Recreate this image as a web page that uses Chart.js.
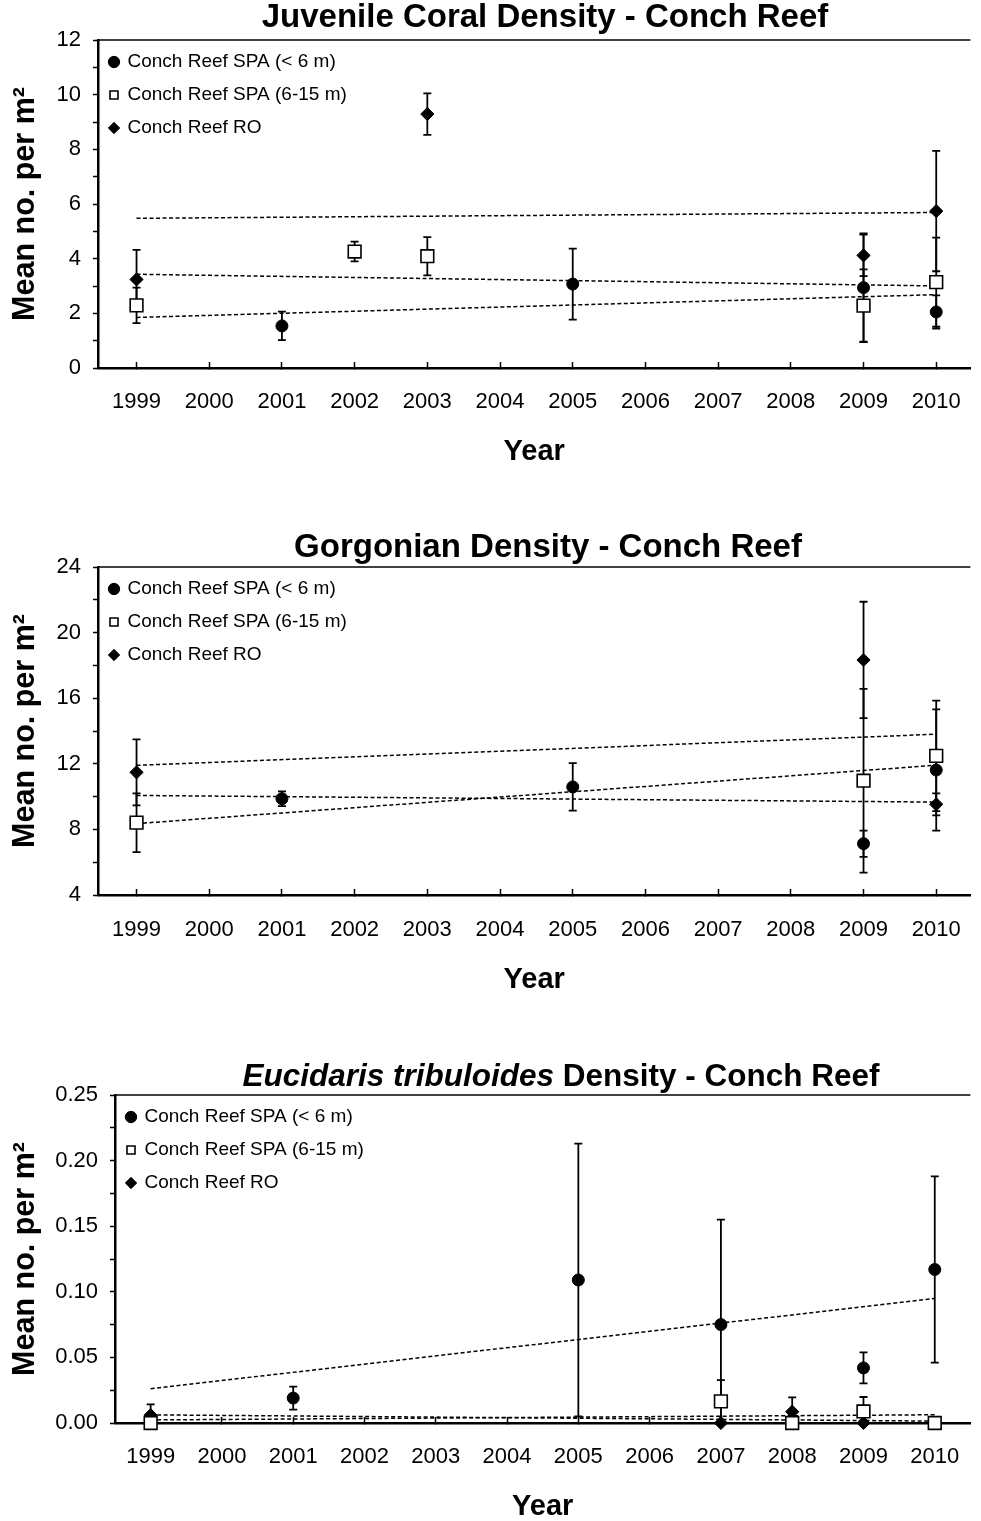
<!DOCTYPE html>
<html>
<head>
<meta charset="utf-8">
<title>Conch Reef density charts</title>
<script src="https://cdn.jsdelivr.net/npm/chart.js@4.4.1/dist/chart.umd.min.js"></script>
<style>
  html, body { margin: 0; padding: 0; background: #fff; }
  body { width: 981px; height: 1521px; position: relative; overflow: hidden; }
  canvas { position: absolute; left: 0; }
</style>
</head>
<body>
<canvas id="coral" width="981" height="500" style="top:0px"></canvas>
<canvas id="gorgonian" width="981" height="530" style="top:500px"></canvas>
<canvas id="urchin" width="981" height="491" style="top:1030px"></canvas>
<script>
// ---- shared categories ----
const years = [1999, 2000, 2001, 2002, 2003, 2004, 2005, 2006, 2007, 2008, 2009, 2010];
const seriesNames = ['Conch Reef SPA (< 6 m)', 'Conch Reef SPA (6-15 m)', 'Conch Reef RO'];

// ---- juvenile corals (mean no. per m², with error) ----
const coralShallowYears = [2001, 2005, 2009, 2010];
const coralShallowMean  = [1.54, 3.07, 2.94, 2.05];
const coralShallowErr   = [0.52, 1.30, 1.98, 0.61];
const coralDeepYears = [1999, 2002, 2003, 2009, 2010];
const coralDeepMean  = [2.29, 4.26, 4.09, 2.28, 3.14];
const coralDeepErr   = [0.65, 0.36, 0.70, 1.33, 1.63];
const coralROYears = [1999, 2003, 2009, 2010];
const coralROMean  = [3.24, 9.29, 4.12, 5.74];
const coralROErr   = [1.08, 0.76, 0.76, 2.20];

// ---- gorgonians ----
const gorgShallowYears = [2001, 2005, 2009, 2010];
const gorgShallowMean  = [9.87, 10.59, 7.13, 11.62];
const gorgShallowErr   = [0.45, 1.45, 0.80, 3.70];
const gorgDeepYears = [1999, 2009, 2010];
const gorgDeepMean  = [8.41, 10.97, 12.48];
const gorgDeepErr   = [1.79, 5.60, 3.37];
const gorgROYears = [1999, 2009, 2010];
const gorgROMean  = [11.48, 18.33, 9.53];
const gorgROErr   = [2.01, 3.55, 0.67];

// ---- Eucidaris tribuloides ----
const urchinShallowYears = [2001, 2005, 2007, 2009, 2010];
const urchinShallowMean  = [0.019, 0.109, 0.075, 0.042, 0.117];
const urchinShallowErr   = [0.0088, 0.104, 0.080, 0.0118, 0.071];
const urchinDeepYears = [1999, 2007, 2008, 2009, 2010];
const urchinDeepMean  = [0.0, 0.0165, 0.0, 0.0088, 0.0];
const urchinDeepErr   = [0, 0.0162, 0, 0.011, 0];
const urchinROYears = [1999, 2007, 2008, 2009, 2010];
const urchinROMean  = [0.006, 0.0, 0.0086, 0.0, 0.0];
const urchinROErr   = [0.0082, 0, 0.011, 0, 0];

const FONT = "'Liberation Sans', Arial, Helvetica, sans-serif";
Chart.defaults.font.family = FONT;
Chart.defaults.color = '#000';
Chart.defaults.animation = false;

// least-squares line through a series, evaluated at the ends of the year range
function trendPoints(xs, ys) {
  const n = xs.length;
  const mx = xs.reduce((a, b) => a + b, 0) / n;
  const my = ys.reduce((a, b) => a + b, 0) / n;
  let sxy = 0, sxx = 0;
  for (let i = 0; i < n; i++) { sxy += (xs[i] - mx) * (ys[i] - my); sxx += (xs[i] - mx) * (xs[i] - mx); }
  const b = sxy / sxx, a = my - b * mx;
  const x0 = years[0], x1 = years[years.length - 1];
  return [{ x: x0, y: a + b * x0 }, { x: x1, y: a + b * x1 }];
}

const markerStyles = [
  { pointStyle: 'circle',  pointRadius: 6,   backgroundColor: '#000', borderColor: '#000', borderWidth: 1 },
  { pointStyle: 'rect',    pointRadius: 9,   backgroundColor: '#fff', borderColor: '#000', borderWidth: 1.6 },
  { pointStyle: 'rectRot', pointRadius: 6.6, backgroundColor: '#000', borderColor: '#000', borderWidth: 1 }
];

// vertical error bars with caps, drawn beneath the markers
const errorBars = {
  id: 'errorBars',
  beforeDatasetsDraw(chart) {
    const { ctx, chartArea } = chart;
    const xs = chart.scales.x, ys = chart.scales.y;
    ctx.save();
    ctx.beginPath();
    ctx.rect(chartArea.left, chartArea.top - 1, chartArea.right - chartArea.left, chartArea.bottom - chartArea.top + 1);
    ctx.clip();
    ctx.strokeStyle = '#000';
    ctx.lineWidth = 1.8;
    chart.data.datasets.forEach(ds => {
      if (!ds.errors) return;
      ds.data.forEach((p, j) => {
        const e = ds.errors[j];
        if (!e) return;
        const px = xs.getPixelForValue(p.x);
        const yHi = ys.getPixelForValue(p.y + e);
        const yLo = ys.getPixelForValue(p.y - e);
        ctx.beginPath();
        ctx.moveTo(px, yHi); ctx.lineTo(px, yLo);
        ctx.moveTo(px - 4, yHi); ctx.lineTo(px + 4, yHi);
        ctx.moveTo(px - 4, yLo); ctx.lineTo(px + 4, yLo);
        ctx.stroke();
      });
    });
    ctx.restore();
  }
};

// thin frame line along the top of the plot area
const topFrame = {
  id: 'topFrame',
  beforeDatasetsDraw(chart) {
    const { ctx, chartArea } = chart;
    ctx.save();
    ctx.strokeStyle = '#000';
    ctx.lineWidth = 1.5;
    ctx.beginPath();
    ctx.moveTo(chartArea.left, chartArea.top);
    ctx.lineTo(chartArea.right, chartArea.top);
    ctx.stroke();
    ctx.restore();
  }
};

// title made of styled runs (allows an italic species name)
const runTitle = {
  id: 'runTitle',
  afterDraw(chart, args, opts) {
    const ctx = chart.ctx;
    ctx.save();
    ctx.fillStyle = '#000';
    ctx.textBaseline = 'middle';
    ctx.textAlign = 'left';
    const fontOf = r => (r.italic ? 'italic ' : '') + 'bold ' + opts.size + 'px ' + FONT;
    let total = 0;
    opts.runs.forEach(r => { ctx.font = fontOf(r); total += ctx.measureText(r.text).width; });
    let x = opts.x - total / 2;
    opts.runs.forEach(r => {
      ctx.font = fontOf(r);
      ctx.fillText(r.text, x, opts.y);
      x += ctx.measureText(r.text).width;
    });
    ctx.restore();
  }
};

// pin the legend to the upper-left corner inside the plot area
const legendCorner = {
  id: 'legendCorner',
  afterLayout(chart, args, opts) {
    const lg = chart.legend, ca = chart.chartArea;
    if (!lg) return;
    const w = lg.width, h = lg.height;
    lg.left = ca.left + opts.dx;
    lg.top = ca.top + opts.dy;
    lg.right = lg.left + w;
    lg.bottom = lg.top + h;
  }
};

function buildChart(id, spec) {
  const L = spec.layout;
  const canvas = document.getElementById(id);
  const H = canvas.height;
  const tickSize = 22, axisTitleSize = 30.5;
  const tickLH = tickSize * 1.2, axisLH = axisTitleSize * 1.2;
  const xTickLen = -6;
  const xScaleHeight = (L.canvasTop + H) - L.plotBottom;

  const datasets = [];
  spec.series.forEach((s, i) => {
    datasets.push(Object.assign({
      type: 'scatter',
      label: seriesNames[i],
      data: s.years.map((y, j) => ({ x: y, y: s.mean[j] })),
      errors: s.err,
      clip: false
    }, markerStyles[i]));
  });
  spec.series.forEach(s => {
    datasets.push({
      type: 'line',
      label: '',
      trend: true,
      data: trendPoints(s.years, s.mean),
      borderColor: '#000',
      borderWidth: 1.5,
      borderDash: [4, 2.5],
      pointRadius: 0,
      fill: false
    });
  });

  return new Chart(canvas, {
    type: 'scatter',
    data: { datasets },
    options: {
      responsive: false,
      devicePixelRatio: 1,
      layout: { padding: { top: L.plotTop - L.canvasTop, left: 0, right: 0, bottom: 0 } },
      plugins: {
        legend: {
          position: 'chartArea',
          align: 'start',
          labels: {
            usePointStyle: true,
            boxWidth: 8,
            boxHeight: 8,
            padding: 14,
            color: '#000',
            font: { size: 19 },
            filter: (item, data) => !data.datasets[item.datasetIndex].trend
          }
        },
        tooltip: { enabled: false },
        runTitle: { runs: spec.title, size: spec.titleSize, x: L.titleX, y: L.titleY - L.canvasTop },
        legendCorner: { dx: -2, dy: -1.5 }
      },
      scales: {
        x: {
          type: 'linear',
          min: spec.xMin,
          max: spec.xMax,
          afterBuildTicks: s => { s.ticks = years.map(v => ({ value: v })); },
          afterFit: s => { s.height = xScaleHeight; s.paddingLeft = 0; s.paddingRight = 0; },
          ticks: {
            callback: v => String(v),
            autoSkip: false,
            maxRotation: 0,
            color: '#000',
            font: { size: tickSize },
            padding: (L.tickY - L.plotBottom) - xTickLen - tickLH / 2
          },
          grid: { display: true, drawOnChartArea: false, tickLength: xTickLen, tickColor: '#000', tickWidth: 1.5 },
          border: { display: true, color: '#000', width: 2.5 },
          title: {
            display: true, text: 'Year', color: '#000',
            font: { size: 29, weight: 'bold' },
            padding: { top: 0, bottom: (L.canvasTop + H) - L.yearY - 29 * 1.2 / 2 }
          }
        },
        y: {
          min: spec.yMin,
          max: spec.yMax,
          afterFit: s => { s.width = L.plotLeft; s.paddingTop = 0; s.paddingBottom = 0; },
          ticks: {
            stepSize: spec.yStep,
            autoSkip: false,
            color: '#000',
            font: { size: tickSize },
            padding: 12,
            callback: spec.yLabel
          },
          grid: { display: true, drawOnChartArea: false, tickLength: 5, tickColor: '#000', tickWidth: 1.5 },
          border: { display: true, color: '#000', width: 2.5 },
          title: {
            display: true, text: 'Mean no. per m²', color: '#000',
            font: { size: axisTitleSize, weight: 'bold' },
            padding: { top: L.yTitleX - axisLH / 2, bottom: 0 }
          }
        }
      }
    },
    plugins: [errorBars, topFrame, runTitle, legendCorner]
  });
}

buildChart('coral', {
  title: [{ text: 'Juvenile Coral Density - Conch Reef' }],
  titleSize: 33,
  series: [
    { years: coralShallowYears, mean: coralShallowMean, err: coralShallowErr },
    { years: coralDeepYears, mean: coralDeepMean, err: coralDeepErr },
    { years: coralROYears, mean: coralROMean, err: coralROErr }
  ],
  xMin: 1998.47, xMax: 2010.47,
  yMin: 0, yMax: 12, yStep: 1,
  yLabel: v => (Math.round(v) % 2 === 0 ? String(v) : ''),
  layout: { canvasTop: 0, plotTop: 40, plotBottom: 368, plotLeft: 98, titleX: 545, titleY: 18, tickY: 402, yearY: 452, yTitleX: 26 }
});

buildChart('gorgonian', {
  title: [{ text: 'Gorgonian Density - Conch Reef' }],
  titleSize: 33,
  series: [
    { years: gorgShallowYears, mean: gorgShallowMean, err: gorgShallowErr },
    { years: gorgDeepYears, mean: gorgDeepMean, err: gorgDeepErr },
    { years: gorgROYears, mean: gorgROMean, err: gorgROErr }
  ],
  xMin: 1998.47, xMax: 2010.47,
  yMin: 4, yMax: 24, yStep: 2,
  yLabel: v => (Math.round(v) % 4 === 0 ? String(v) : ''),
  layout: { canvasTop: 500, plotTop: 567, plotBottom: 895, plotLeft: 98, titleX: 548, titleY: 548, tickY: 930, yearY: 980, yTitleX: 26 }
});

buildChart('urchin', {
  title: [{ text: 'Eucidaris tribuloides', italic: true }, { text: ' Density - Conch Reef' }],
  titleSize: 31.5,
  series: [
    { years: urchinShallowYears, mean: urchinShallowMean, err: urchinShallowErr },
    { years: urchinDeepYears, mean: urchinDeepMean, err: urchinDeepErr },
    { years: urchinROYears, mean: urchinROMean, err: urchinROErr }
  ],
  xMin: 1998.5, xMax: 2010.5,
  yMin: 0, yMax: 0.25, yStep: 0.025,
  yLabel: v => (Math.round(v * 1000) % 50 === 0 ? v.toFixed(2) : ''),
  layout: { canvasTop: 1030, plotTop: 1095, plotBottom: 1423, plotLeft: 115, titleX: 561, titleY: 1077, tickY: 1457, yearY: 1507, yTitleX: 26 }
});
</script>
</body>
</html>
